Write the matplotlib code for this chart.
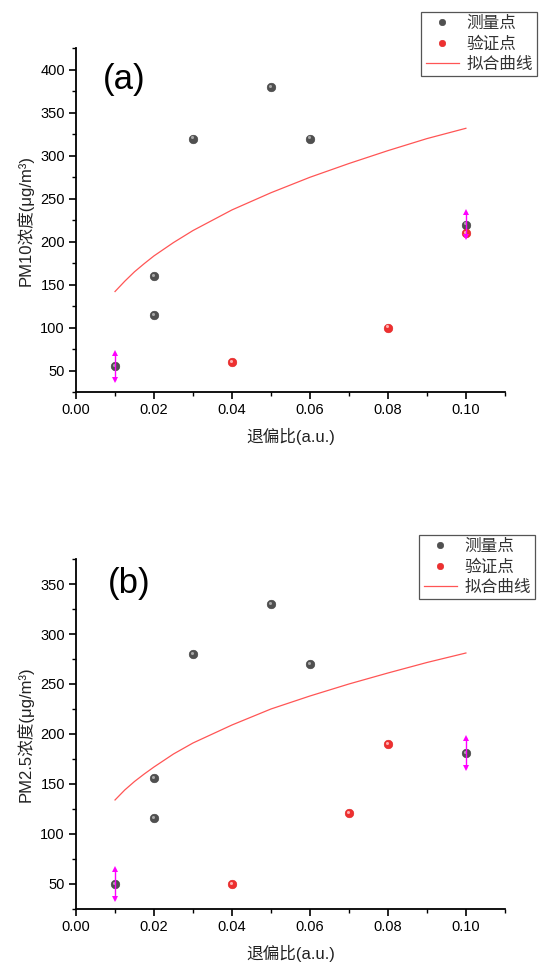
import matplotlib
matplotlib.use("Agg")
import matplotlib.pyplot as plt
import matplotlib.transforms as mtransforms
from matplotlib.ticker import MultipleLocator

plt.rcParams['font.family'] = ['Liberation Sans', 'Noto Sans CJK SC', 'DejaVu Sans']

# ---------- Panel (a): PM10 ----------
a_meas_x = [0.01, 0.02, 0.02, 0.03, 0.05, 0.06, 0.10]
a_meas_y = [55, 160, 115, 320, 380, 320, 220]
a_val_x = [0.04, 0.08, 0.10]
a_val_y = [60, 100, 210]
a_err_x = [0.01, 0.10]
a_err_y = [55, 220]
a_err = [16, 15]
a_fit_x = [0.01, 0.0125, 0.015, 0.0175, 0.02, 0.025, 0.03, 0.04, 0.05, 0.06, 0.07, 0.08, 0.09, 0.10]
a_fit_y = [142, 154, 165, 174.5, 183.5, 199, 213, 237, 257, 275, 291, 306, 320, 332]

# ---------- Panel (b): PM2.5 ----------
b_meas_x = [0.01, 0.02, 0.02, 0.03, 0.05, 0.06, 0.10]
b_meas_y = [50, 156, 116, 280, 330, 270, 181]
b_val_x = [0.04, 0.07, 0.08]
b_val_y = [50, 121, 190]
b_err_x = [0.01, 0.10]
b_err_y = [50, 181]
b_err = [15, 15]
b_fit_x = [0.01, 0.0125, 0.015, 0.0175, 0.02, 0.025, 0.03, 0.04, 0.05, 0.06, 0.07, 0.08, 0.09, 0.10]
b_fit_y = [134, 144, 152.5, 160, 167, 180, 191, 209, 225, 238, 250, 261, 271.5, 281]

legend_labels = ['测量点', '验证点', '拟合曲线']

fig = plt.figure(figsize=(5.47, 9.68), dpi=100)
ax_a = fig.add_axes([0.139, 0.595, 0.784, 0.355])
ax_b = fig.add_axes([0.139, 0.061, 0.784, 0.3615])


def draw(ax, mx, my, vx, vy, ex, ey, ee, fx, fy, ylim, ylabel, tag, tagpos, legpos):
    hl = mtransforms.offset_copy(ax.transData, fig=fig, x=-1.2, y=1.2, units='dots')
    h1 = ax.plot(mx, my, 'o', color='#505050', ms=6.2, mec='#404040', mew=0.4, zorder=3)[0]
    ax.plot(mx, my, 'o', color='#a8a8a8', ms=2.2, mew=0, zorder=4, transform=hl)
    h2 = ax.plot(vx, vy, 'o', color='#ee3030', ms=6.2, mec='#e02020', mew=0.4, zorder=3)[0]
    ax.plot(vx, vy, 'o', color='#ffb0b0', ms=2.2, mew=0, zorder=4, transform=hl)
    h3 = ax.plot(fx, fy, '-', color='#ff5555', lw=0.9, zorder=2)[0]
    for x, y, e in zip(ex, ey, ee):
        ax.plot([x, x], [y - e, y + e], '-', color='#ff00ff', lw=1.0, zorder=5)
        ax.plot([x], [y + e], '^', color='#ff00ff', ms=4, mew=0, zorder=5)
        ax.plot([x], [y - e], 'v', color='#ff00ff', ms=4, mew=0, zorder=5)
    ax.set_xlim(0, 0.11)
    ax.set_ylim(*ylim)
    ax.xaxis.set_major_locator(MultipleLocator(0.02))
    ax.xaxis.set_minor_locator(MultipleLocator(0.01))
    ax.yaxis.set_major_locator(MultipleLocator(50))
    ax.yaxis.set_minor_locator(MultipleLocator(25))
    ax.xaxis.set_major_formatter(plt.FuncFormatter(lambda v, p: f'{v:.2f}'))
    for s in ['top', 'right']:
        ax.spines[s].set_visible(False)
    for s in ['left', 'bottom']:
        ax.spines[s].set_linewidth(1.3)
    ax.tick_params(which='major', direction='out', length=5, width=1.2, labelsize=10.5, pad=3)
    ax.tick_params(which='minor', direction='out', length=3, width=1.0)
    ax.set_xlabel('退偏比(a.u.)', fontsize=12, labelpad=8, color='#222222')
    ax.set_ylabel(ylabel, fontsize=12, labelpad=5, color='#222222')
    fig.text(tagpos[0], tagpos[1], tag, fontsize=25, ha='center', va='center')
    leg = fig.legend([h1, h2, h3], legend_labels, loc='upper right', bbox_to_anchor=legpos,
                     fontsize=12, frameon=True, fancybox=False, edgecolor='#555555',
                     framealpha=1, borderpad=0.25, labelspacing=0.3, handlelength=2.0,
                     handletextpad=0.45, borderaxespad=0, markerscale=0.75)
    for t in leg.get_texts():
        t.set_color('#333333')
    leg.get_frame().set_linewidth(0.9)


draw(ax_a, a_meas_x, a_meas_y, a_val_x, a_val_y, a_err_x, a_err_y, a_err, a_fit_x, a_fit_y,
     (25, 425), 'PM10浓度(μg/m³)', '(a)', (124 / 547, 1 - 80 / 968), (537 / 547, 1 - 12 / 968))
draw(ax_b, b_meas_x, b_meas_y, b_val_x, b_val_y, b_err_x, b_err_y, b_err, b_fit_x, b_fit_y,
     (25, 375), 'PM2.5浓度(μg/m³)', '(b)', (129 / 547, 1 - 583 / 968), (535 / 547, 1 - 535 / 968))

fig.savefig('out.png', dpi=100)
